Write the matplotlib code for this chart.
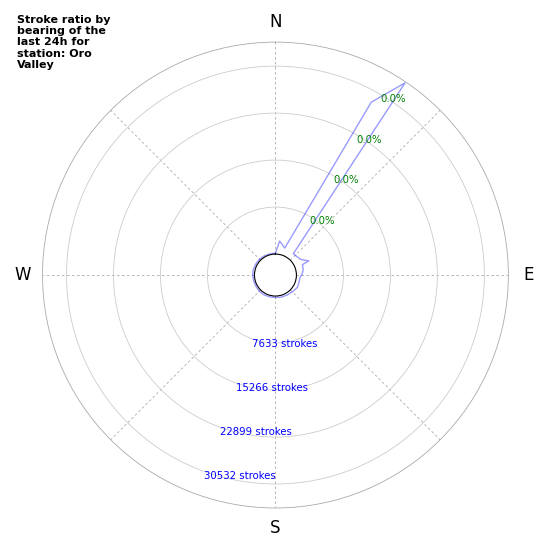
import numpy as np
import matplotlib
matplotlib.use("Agg")
import matplotlib.pyplot as plt

# strokes per bearing (deg, clockwise from north)
bearings = [0, 7, 19, 29, 34, 40, 58, 67, 69, 78, 88, 96, 108, 120,
            135, 150, 165, 180, 195, 210, 225, 240, 255, 270, 285, 300,
            315, 330, 345]
strokes = [150, 2160, 1230, 28700, 34250, 1100, 1400, 2480, 1280, 1200,
           940, 590, 600, 680,
           450, 350, 300, 250, 250, 300, 300, 250, 250, 300, 300, 250,
           250, 200, 150]

stroke_ticks = [7633, 15266, 22899, 30532]
pct_labels = ["0.0%", "0.0%", "0.0%", "0.0%"]
compass = ["N", "", "E", "", "S", "", "W", ""]
title = "Stroke ratio by\nbearing of the\nlast 24h for\nstation: Oro\nValley"

fig = plt.figure(figsize=(5.5, 5.5), dpi=100)
ax = fig.add_axes([0.0773, 0.0764, 0.847, 0.847], projection="polar")
ax.set_theta_zero_location("N")
ax.set_theta_direction(-1)

theta = np.deg2rad(bearings + [bearings[0]])
r = strokes + [strokes[0]]
ax.plot(theta, r, color="blue", alpha=0.4, lw=1)

ax.set_ylim(0, 34430)
ax.set_rorigin(-3410)
ax.set_rticks(stroke_ticks)
ax.set_yticklabels([])
ax.set_thetagrids(range(0, 360, 45), compass, fontsize=12)
ax.tick_params(axis="x", pad=4)

ax.yaxis.grid(True, color="#cccccc", lw=0.6, ls="-")
ax.xaxis.grid(True, color="#aaaaaa", lw=0.6, ls=(0, (3, 3)))
ax.spines["polar"].set_color("#aaaaaa")
ax.spines["polar"].set_linewidth(0.6)
ax.spines["inner"].set_color("black")
ax.spines["inner"].set_linewidth(0.8)

for v in stroke_ticks:
    ax.text(np.deg2rad(200), v, "%d strokes" % v, color="blue",
            fontsize=7.3, ha="left", va="top")
for v, lab in zip(stroke_ticks, pct_labels):
    ax.text(np.deg2rad(30), v, lab, color="green",
            fontsize=7.3, ha="left", va="top")

fig.text(17 / 550, 1 - 15 / 550, title, fontsize=8, fontweight="bold",
         ha="left", va="top", linespacing=1.15)

fig.savefig("out.png", dpi=100)
